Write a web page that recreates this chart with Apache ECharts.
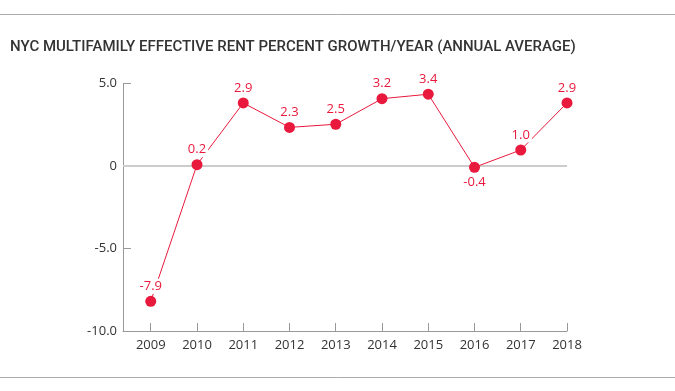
<!DOCTYPE html>
<html><head><meta charset="utf-8">
<script src="https://cdn.jsdelivr.net/npm/echarts@6/dist/echarts.min.js"></script>
<style>html,body{margin:0;padding:0;background:#fff}#c{width:675px;height:391px}</style>
</head><body><div id="c"></div>
<script>
var years = [2009, 2010, 2011, 2012, 2013, 2014, 2015, 2016, 2017, 2018];
var plotted = [-8.2, 0.08, 3.82, 2.34, 2.53, 4.08, 4.35, -0.08, 0.97, 3.82];
var labels = ['-7.9', '0.2', '2.9', '2.3', '2.5', '3.2', '3.4', '-0.4', '1.0', '2.9'];
var yTicks = [-10, -5, 0, 5];
var title = 'NYC MULTIFAMILY EFFECTIVE RENT PERCENT GROWTH/YEAR (ANNUAL AVERAGE)';

var RED = '#e8193c';
var chart = echarts.init(document.getElementById('c'), null, {renderer: 'canvas'});
var data = years.map(function (y, i) {
  return {
    value: [y, plotted[i]],
    label: { position: i === 7 ? 'bottom' : 'top' }
  };
});
chart.setOption({
  animation: false,
  title: {
    text: title, left: 5, top: 35,
    textStyle: { fontFamily: 'Roboto', fontSize: 15, fontWeight: 500, color: '#333' }
  },
  graphic: [
    { type: 'line', shape: { x1: 0, y1: 14.5, x2: 675, y2: 14.5 }, style: { stroke: '#aaa', lineWidth: 1 } },
    { type: 'line', shape: { x1: 0, y1: 377.5, x2: 675, y2: 377.5 }, style: { stroke: '#aaa', lineWidth: 1 } }
  ],
  grid: { left: 123, right: 108, top: 83.5, bottom: 60 },
  xAxis: {
    type: 'value', min: 2008.4, max: 2018, interval: 1,
    axisLine: { onZero: false, lineStyle: { color: '#999', width: 1 } },
    axisTick: { inside: true, length: 8, lineStyle: { color: '#999' }, customValues: years },
    axisLabel: { color: '#333', fontSize: 13, fontFamily: 'Open Sans', margin: 8, customValues: years,
      formatter: function (v) { return Math.abs(v - Math.round(v)) < 1e-6 ? String(Math.round(v)) : ''; } },
    splitLine: { show: false }
  },
  yAxis: {
    type: 'value', min: -10, max: 5, interval: 5,
    axisLine: { show: true, lineStyle: { color: '#999', width: 1 } },
    axisTick: { show: true, inside: true, length: 8, lineStyle: { color: '#999' } },
    axisLabel: { color: '#333', fontSize: 13, fontFamily: 'Open Sans', margin: 6,
      formatter: function (v) { return v === 0 ? '0' : v.toFixed(1); } },
    splitLine: { show: false }
  },
  series: [{
    type: 'line',
    data: data,
    symbol: 'circle', symbolSize: 11,
    itemStyle: { color: RED },
    lineStyle: { color: RED, width: 1 },
    z: 3,
    label: {
      show: true, color: RED, fontSize: 13, fontFamily: 'Open Sans',
      distance: 2, backgroundColor: '#fff', padding: [1, 2],
      formatter: function (p) { return labels[p.dataIndex]; }
    },
    markLine: {
      silent: true, symbol: 'none', z: 1,
      label: { show: false },
      lineStyle: { color: '#ccc', width: 2, type: 'solid' },
      data: [{ yAxis: 0 }]
    }
  }]
});
</script></body></html>
